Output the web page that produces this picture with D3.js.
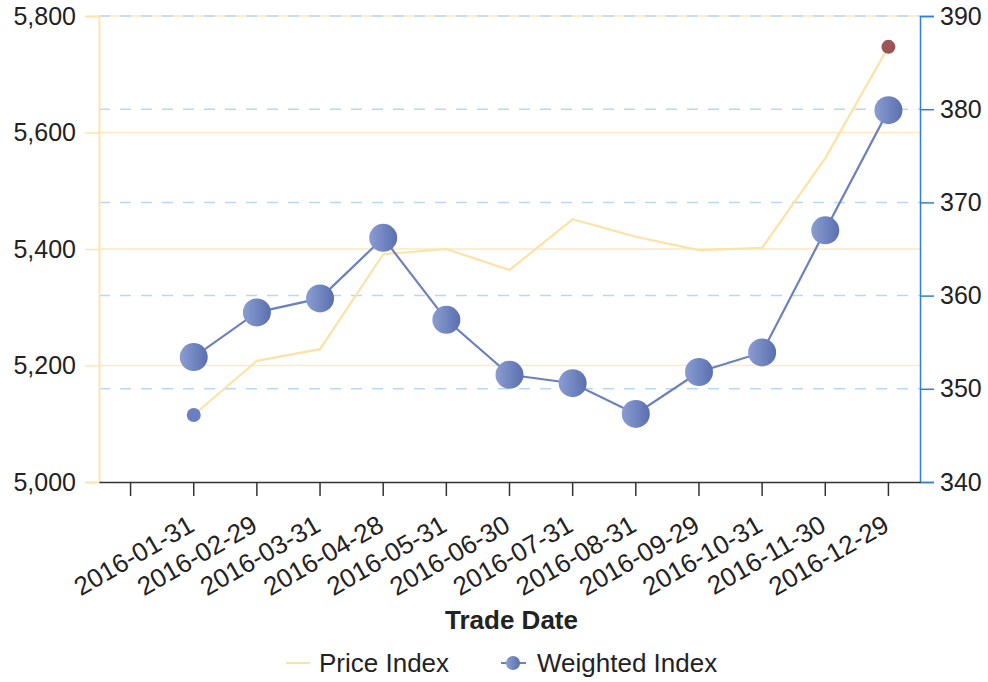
<!DOCTYPE html>
<html>
<head>
<meta charset="utf-8">
<script src="https://cdn.jsdelivr.net/npm/d3@7"></script>
<style>
  body { margin: 0; background: #fff; }
  text { font-family: "Liberation Sans", Arial, sans-serif; fill: #222; }
</style>
</head>
<body>
<svg id="chart" width="988" height="682"></svg>
<script>
// data
const dates = ["2016-01-31","2016-02-29","2016-03-31","2016-04-28","2016-05-31","2016-06-30",
               "2016-07-31","2016-08-31","2016-09-29","2016-10-31","2016-11-30","2016-12-29"];
const priceIndex = [5115, 5208, 5228, 5391, 5400, 5364, 5451, 5421, 5398, 5402, 5556, 5747];
const weightedIndex = [353.4, 358.2, 359.7, 366.2, 357.4, 351.5, 350.6, 347.3, 351.8, 353.9, 367.0, 379.9];
const leftTicks = [5000, 5200, 5400, 5600, 5800];
const rightTicks = [340, 350, 360, 370, 380, 390];

const svg = d3.select('#chart');
const m = {left: 99, right: 920, top: 16, bottom: 482};

// leading empty band, the original has an extra unlabeled tick before the first date
const x = d3.scaleBand().domain([""].concat(dates)).range([m.left, m.right]);
const cx = d => x(d) + x.bandwidth() / 2;
const yL = d3.scaleLinear().domain([5000, 5800]).range([m.bottom, m.top]);
const yR = d3.scaleLinear().domain([340, 390]).range([m.bottom, m.top]);

const defs = svg.append('defs');
const grad = defs.append('linearGradient').attr('id', 'ball')
  .attr('x1', '0%').attr('x2', '100%').attr('y1', '0%').attr('y2', '0%');
grad.append('stop').attr('offset', '0%').attr('stop-color', '#8a9dd2');
grad.append('stop').attr('offset', '100%').attr('stop-color', '#5a6fae');

// gridlines
svg.append('g').selectAll('line').data(leftTicks.slice(1)).join('line')
  .attr('x1', m.left).attr('x2', m.right)
  .attr('y1', d => yL(d)).attr('y2', d => yL(d))
  .attr('stroke', '#fde9c2').attr('stroke-width', 1.5);
svg.append('g').selectAll('line').data(rightTicks.slice(1)).join('line')
  .attr('x1', m.left).attr('x2', m.right)
  .attr('y1', d => yR(d)).attr('y2', d => yR(d))
  .attr('stroke', '#b9d6f5').attr('stroke-width', 1.5)
  .attr('stroke-dasharray', '11,10');

// left axis
const gl = svg.append('g').attr('transform', `translate(${m.left},0)`)
  .call(d3.axisLeft(yL).tickValues(leftTicks).tickSize(14).tickPadding(9).tickFormat(d3.format(',')));
gl.select('.domain').attr('stroke', '#fde4b0').attr('stroke-width', 2);
gl.selectAll('.tick line').attr('stroke', '#fde4b0').attr('stroke-width', 1.5);
gl.selectAll('.tick text').style('font-size', '25px').attr('fill', '#222');

// right axis
const gr = svg.append('g').attr('transform', `translate(${m.right},0)`)
  .call(d3.axisRight(yR).tickValues(rightTicks).tickSize(14).tickPadding(6));
gr.select('.domain').attr('stroke', '#2f7fd6').attr('stroke-width', 1.5);
gr.selectAll('.tick line').attr('stroke', '#2f7fd6').attr('stroke-width', 1.5);
gr.selectAll('.tick text').style('font-size', '25px').attr('fill', '#222');

// bottom axis
const gb = svg.append('g').attr('transform', `translate(0,${m.bottom})`)
  .call(d3.axisBottom(x).tickSize(14).tickSizeOuter(0));
gb.select('.domain').attr('stroke', '#333').attr('stroke-width', 1.5);
gb.selectAll('.tick line').attr('stroke', '#333').attr('stroke-width', 1.5);
gb.selectAll('.tick text')
  .style('font-size', '26px').attr('fill', '#222')
  .attr('text-anchor', 'end')
  .attr('x', 0).attr('y', 0).attr('dy', '0.71em')
  .attr('transform', 'translate(-7,32) rotate(-30)');

// axis title
svg.append('text').attr('x', (m.left + m.right) / 2 + 2).attr('y', 629)
  .attr('text-anchor', 'middle').style('font-size', '26px').style('font-weight', 'bold')
  .text('Trade Date');

// price line
const linePrice = d3.line().x((d, i) => cx(dates[i])).y(d => yL(d));
svg.append('path').datum(priceIndex).attr('d', linePrice)
  .attr('fill', 'none').attr('stroke', '#fde2a6').attr('stroke-width', 2.2);

// weighted line
const lineW = d3.line().x((d, i) => cx(dates[i])).y(d => yR(d));
svg.append('path').datum(weightedIndex).attr('d', lineW)
  .attr('fill', 'none').attr('stroke', '#6b80c0').attr('stroke-width', 2.2);

svg.append('g').selectAll('circle').data(weightedIndex).join('circle')
  .attr('cx', (d, i) => cx(dates[i])).attr('cy', d => yR(d))
  .attr('r', 14).attr('fill', 'url(#ball)');

// price index end markers: first (blue) and last (red)
const ends = [0, priceIndex.length - 1];
svg.append('g').selectAll('circle').data(ends).join('circle')
  .attr('cx', i => cx(dates[i])).attr('cy', i => yL(priceIndex[i]))
  .attr('r', 7).attr('fill', (i, k) => k === 0 ? '#6a7fbf' : '#9b5555');

// legend
const lg = svg.append('g').attr('transform', 'translate(0,663)');
lg.append('line').attr('x1', 286).attr('x2', 310).attr('y1', 0).attr('y2', 0)
  .attr('stroke', '#fde2a6').attr('stroke-width', 2);
lg.append('text').attr('x', 319).attr('y', 0).attr('dy', '0.35em')
  .style('font-size', '26px').text('Price Index');
lg.append('line').attr('x1', 501).attr('x2', 526).attr('y1', 0).attr('y2', 0)
  .attr('stroke', '#6b80c0').attr('stroke-width', 2);
lg.append('circle').attr('cx', 513).attr('cy', 0).attr('r', 7).attr('fill', 'url(#ball)');
lg.append('text').attr('x', 537).attr('y', 0).attr('dy', '0.35em')
  .style('font-size', '26px').text('Weighted Index');
</script>
</body>
</html>
